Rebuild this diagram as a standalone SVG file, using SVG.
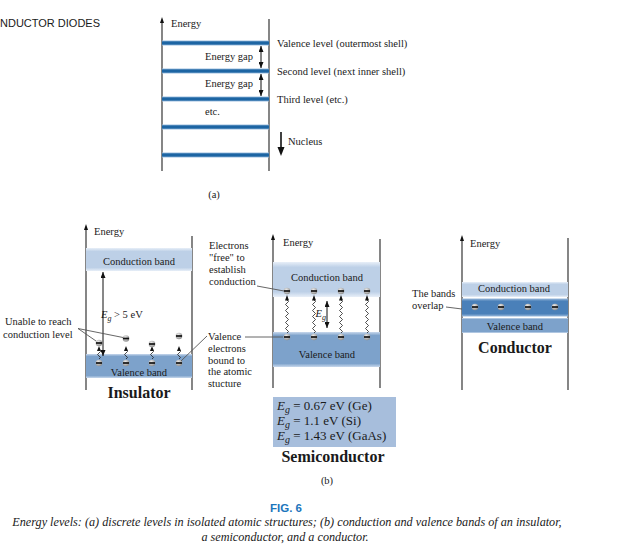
<svg xmlns="http://www.w3.org/2000/svg" xmlns:xlink="http://www.w3.org/1999/xlink" width="635" height="550" viewBox="0 0 635 550">
<style>
text{font-family:"Liberation Serif","Times New Roman",serif;fill:#1a1a1a;font-size:10.5px}
.sans{font-family:"Liberation Sans",Arial,sans-serif}
.big{font-size:16px;font-weight:bold;text-anchor:middle}
.mid{text-anchor:middle}
.ax{stroke:#222;stroke-width:1.1;fill:none}
.ld{stroke:#555;stroke-width:0.9;fill:none}
.arr{stroke:#111;stroke-width:1;fill:none;marker-start:url(#ah);marker-end:url(#ah)}
.wv{stroke:#222;stroke-width:0.8;fill:none}
.cap{font-family:"Liberation Serif","Times New Roman",serif;font-style:italic;font-size:12.2px;text-anchor:middle}
</style>
<defs>
<marker id="ah" viewBox="0 0 6 5" refX="6" refY="2.5" markerWidth="6" markerHeight="5" markerUnits="userSpaceOnUse" orient="auto-start-reverse"><path d="M0,0 L6,2.5 L0,5 z" fill="#111"/></marker>
<linearGradient id="lvl" x1="0" y1="0" x2="0" y2="1"><stop offset="0" stop-color="#9fc0e0"/><stop offset="0.3" stop-color="#1d65a3"/><stop offset="0.7" stop-color="#1d65a3"/><stop offset="1" stop-color="#9fc0e0"/></linearGradient>
<linearGradient id="cb" x1="0" y1="0" x2="0" y2="1"><stop offset="0" stop-color="#e8eff8"/><stop offset="0.15" stop-color="#bdd0e7"/><stop offset="0.85" stop-color="#bdd0e7"/><stop offset="1" stop-color="#e8eff8"/></linearGradient>
<linearGradient id="vb" x1="0" y1="0" x2="0" y2="1"><stop offset="0" stop-color="#c8d8ec"/><stop offset="0.1" stop-color="#7da2cb"/><stop offset="0.9" stop-color="#7da2cb"/><stop offset="1" stop-color="#c8d8ec"/></linearGradient>
<linearGradient id="ob" x1="0" y1="0" x2="0" y2="1"><stop offset="0" stop-color="#9dbbdc"/><stop offset="0.15" stop-color="#4a80b9"/><stop offset="0.85" stop-color="#4a80b9"/><stop offset="1" stop-color="#9dbbdc"/></linearGradient>
<radialGradient id="eg" cx="0.4" cy="0.35" r="0.7"><stop offset="0" stop-color="#f0f0f0"/><stop offset="1" stop-color="#8a8a8a"/></radialGradient>
<g id="e"><circle r="3.3" fill="url(#eg)"/><line x1="-3" y1="0" x2="3" y2="0" stroke="#111" stroke-width="1.7"/></g>
<g id="wi"><path class="wv" d="M0,-4 q3,-1.5 0,-3 q-3,-1.5 0,-3 q3,-1.5 0,-3"/><polygon points="0,-17 -2,-12 2,-12" fill="#111"/></g>
<g id="ws"><path class="wv" d="M0,-4 q3,-1.5 0,-3 q-3,-1.5 0,-3 q3,-1.5 0,-3 q-3,-1.5 0,-3 q3,-1.5 0,-3 q-3,-1.5 0,-3 q3,-1.5 0,-3 q-3,-1.5 0,-3 q3,-1.5 0,-3 q-3,-1.5 0,-3 q3,-1.5 0,-3"/><polygon points="0,-42 -2,-36.5 2,-36.5" fill="#111"/></g>
</defs>

<text class="sans" x="0" y="27" fill="#333" style="font-size:11px">NDUCTOR DIODES</text>

<!-- (a) discrete levels -->
<g id="levels-a">
<line class="ax" x1="162" y1="21" x2="162" y2="171"/>
<polygon points="162,17 160,23 164,23" fill="#111"/>
<line class="ax" x1="269" y1="19" x2="269" y2="171" stroke="#555"/>
<rect x="162" y="40.5" width="107" height="5" fill="url(#lvl)"/>
<rect x="162" y="68.5" width="107" height="5" fill="url(#lvl)"/>
<rect x="162" y="96.5" width="107" height="5" fill="url(#lvl)"/>
<rect x="162" y="124.5" width="107" height="5" fill="url(#lvl)"/>
<rect x="162" y="152.5" width="107" height="5" fill="url(#lvl)"/>
<text x="171" y="27">Energy</text>
<text x="205" y="60">Energy gap</text>
<text x="205" y="87">Energy gap</text>
<text x="205" y="115">etc.</text>
<text x="277" y="47">Valence level (outermost shell)</text>
<text x="277" y="75">Second level (next inner shell)</text>
<text x="277" y="103">Third level (etc.)</text>
<text x="288" y="145">Nucleus</text>
<text class="mid" x="214" y="198">(a)</text>
</g>
<g id="connectors-a">
<line class="arr" x1="261" y1="46" x2="261" y2="68"/>
<line class="arr" x1="261" y1="74" x2="261" y2="96"/>
<line x1="281" y1="132" x2="281" y2="148" stroke="#111" stroke-width="1.6"/>
<polygon points="281,156 277.5,147 284.5,147" fill="#111"/>
</g>

<!-- Insulator -->
<g id="insulator">
<line class="ax" x1="86" y1="229" x2="86" y2="390"/>
<polygon points="86,224 84,230 88,230" fill="#111"/>
<line class="ax" x1="192" y1="236" x2="192" y2="390" stroke="#444"/>
<text x="94" y="235">Energy</text>
<rect x="86" y="248" width="106" height="23" fill="url(#cb)"/>
<text class="mid" x="139" y="264.5">Conduction band</text>
<rect x="86" y="354" width="106" height="24" fill="url(#vb)"/>
<text class="mid" x="139" y="376">Valence band</text>
<text x="101" y="318"><tspan font-style="italic">E</tspan><tspan font-style="italic" font-size="8" dy="2.5">g</tspan><tspan dy="-2.5"> &gt; 5 eV</tspan></text>
<text class="big" x="139" y="398">Insulator</text>
<use href="#wi" x="99" y="363"/>
<use href="#wi" x="126" y="363"/>
<use href="#wi" x="152" y="363"/>
<use href="#wi" x="179" y="363"/>
<use href="#e" x="99" y="343"/>
<use href="#e" x="126" y="338.5"/>
<use href="#e" x="152" y="344"/>
<use href="#e" x="179" y="336"/>
<use href="#e" x="99" y="363"/>
<use href="#e" x="126" y="363"/>
<use href="#e" x="152" y="363"/>
<use href="#e" x="179" y="363"/>
</g>

<!-- Semiconductor -->
<g id="semiconductor">
<line class="ax" x1="273" y1="239" x2="273" y2="388"/>
<polygon points="273,234 271,240 275,240" fill="#111"/>
<line class="ax" x1="380" y1="239" x2="380" y2="388" stroke="#444"/>
<text x="283" y="246">Energy</text>
<rect x="273" y="262" width="107" height="35" fill="url(#cb)"/>
<text class="mid" x="327" y="281">Conduction band</text>
<rect x="273" y="332" width="107" height="35" fill="url(#vb)"/>
<text class="mid" x="327" y="358">Valence band</text>
<use href="#ws" x="287" y="337"/>
<use href="#ws" x="314" y="337"/>
<use href="#ws" x="341" y="337"/>
<use href="#ws" x="367" y="337"/>
<use href="#e" x="287" y="291"/>
<use href="#e" x="314" y="291"/>
<use href="#e" x="341" y="291"/>
<use href="#e" x="367" y="291"/>
<use href="#e" x="287" y="337"/>
<use href="#e" x="314" y="337"/>
<use href="#e" x="341" y="337"/>
<use href="#e" x="367" y="337"/>
<line class="arr" x1="327" y1="301" x2="327" y2="328"/>
<text x="315.5" y="317"><tspan font-style="italic">E</tspan><tspan font-style="italic" font-size="8" dy="2.5">g</tspan></text>
</g>

<g id="eg-box">
<rect x="273" y="397" width="123" height="50" fill="#a7bedc"/>
<text x="277" y="410" style="font-size:13px"><tspan font-style="italic">E</tspan><tspan font-style="italic" font-size="10" dy="3">g</tspan><tspan dy="-3"> = 0.67 eV (Ge)</tspan></text>
<text x="277" y="425" style="font-size:13px"><tspan font-style="italic">E</tspan><tspan font-style="italic" font-size="10" dy="3">g</tspan><tspan dy="-3"> = 1.1 eV (Si)</tspan></text>
<text x="277" y="440" style="font-size:13px"><tspan font-style="italic">E</tspan><tspan font-style="italic" font-size="10" dy="3">g</tspan><tspan dy="-3"> = 1.43 eV (GaAs)</tspan></text>
<text class="big" x="333" y="462">Semiconductor</text>
</g>

<!-- Conductor -->
<g id="conductor">
<line class="ax" x1="462" y1="240" x2="462" y2="390"/>
<polygon points="462,235 460,241 464,241" fill="#111"/>
<line class="ax" x1="568" y1="238" x2="568" y2="390" stroke="#444"/>
<text x="470" y="247">Energy</text>
<rect x="462" y="282" width="106" height="15" fill="url(#cb)"/>
<text class="mid" x="514" y="292">Conduction band</text>
<rect x="462" y="298.5" width="106" height="18" fill="url(#ob)"/>
<rect x="462" y="318" width="106" height="15" fill="url(#vb)"/>
<text class="mid" x="515" y="330">Valence band</text>
<use href="#e" x="475" y="307"/>
<use href="#e" x="501" y="307"/>
<use href="#e" x="528" y="307"/>
<use href="#e" x="555" y="307"/>
<text class="big" x="515" y="353">Conductor</text>
</g>

<!-- annotations -->
<g id="label-unable">
<text x="5" y="325">Unable to reach</text>
<text x="3" y="338">conduction level</text>
</g>
<g id="label-free">
<text x="209" y="249">Electrons</text>
<text x="209" y="261">"free" to</text>
<text x="209" y="273">establish</text>
<text x="209" y="285">conduction</text>
</g>
<g id="label-valence">
<text x="208" y="340">Valence</text>
<text x="208" y="352">electrons</text>
<text x="208" y="363.5">bound to</text>
<text x="208" y="375">the atomic</text>
<text x="208" y="387">stucture</text>
</g>
<g id="label-overlap">
<text x="412" y="297">The bands</text>
<text x="412" y="309">overlap</text>
</g>

<g id="connectors">
<line class="arr" x1="103" y1="272" x2="103" y2="356"/>
<polyline class="ld" points="96,341 78,328.5 123,337.5"/>
<line class="ld" x1="207" y1="336" x2="181" y2="361"/>
<line class="ld" x1="245" y1="337" x2="283" y2="337"/>
<line class="ld" x1="257" y1="286" x2="284" y2="291"/>
<line class="ld" x1="446" y1="307" x2="462" y2="309"/>
</g>

<text class="mid" x="327" y="484">(b)</text>
<text class="sans mid" x="286" y="512" style="font-size:11.5px;font-weight:bold;fill:#1b75bc">FIG. 6</text>
<text class="cap" x="287" y="526">Energy levels: (a) discrete levels in isolated atomic structures; (b) conduction and valence bands of an insulator,</text>
<text class="cap" x="285" y="541">a semiconductor, and a conductor.</text>
</svg>
